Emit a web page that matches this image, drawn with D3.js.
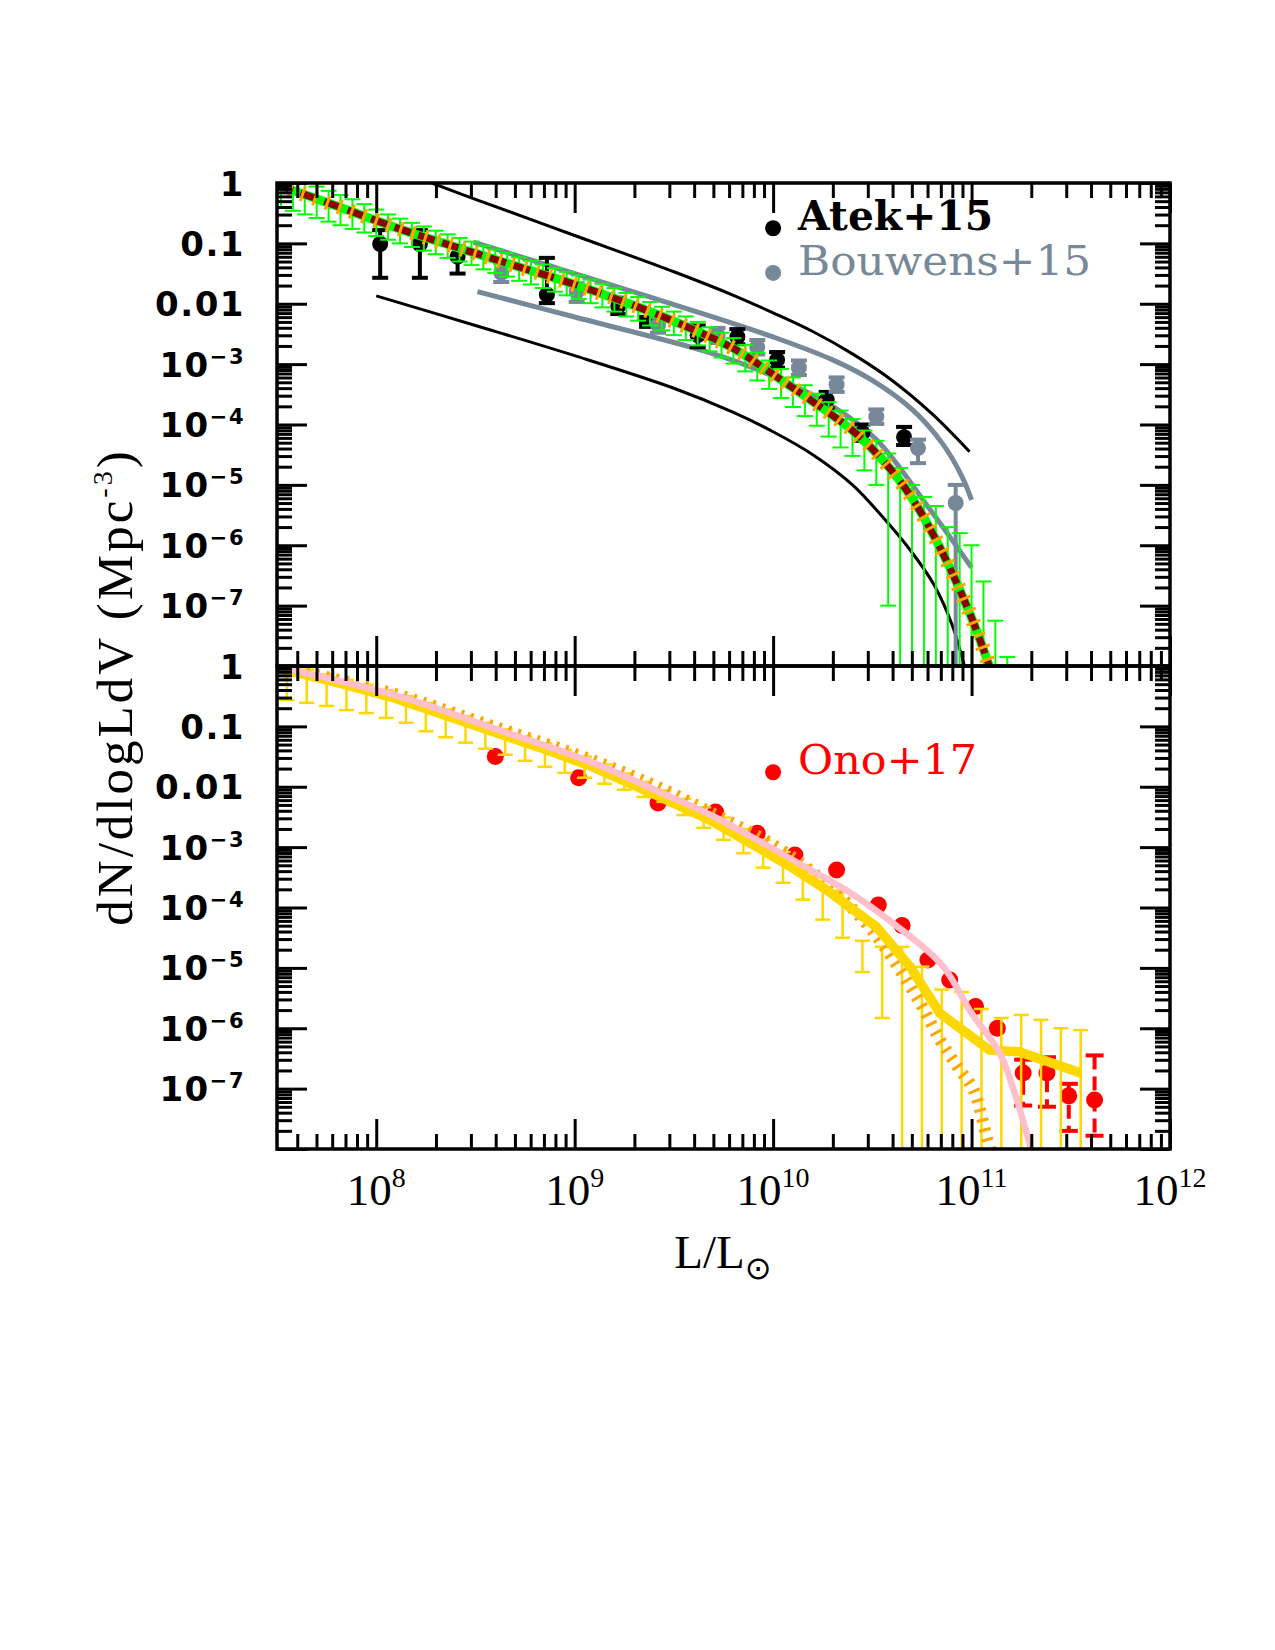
<!DOCTYPE html>
<html>
<head>
<meta charset="utf-8">
<script src="https://cdn.jsdelivr.net/npm/d3@7"></script>
<style>
  body { margin: 0; background: #fff; }
</style>
</head>
<body>
<svg id="fig" width="1275" height="1650"></svg>
<script>
// all values are log10(L/Lsun) and log10(dN/dlogLdV)

// ---- top panel ----
const upBlackL = [8.28, 8.5, 9.0, 9.5, 9.8, 10.0, 10.2, 10.4, 10.6, 10.8, 10.99]
const upBlackN = [0.0, -0.27, -0.87, -1.47, -1.86, -2.15, -2.46, -2.83, -3.27, -3.82, -4.45]
const loBlackL = [8.0, 8.5, 9.0, 9.5, 9.8, 10.0, 10.2, 10.4, 10.57, 10.7, 10.81, 10.9, 10.96, 11.0]
const loBlackN = [-1.87, -2.36, -2.86, -3.40, -3.80, -4.12, -4.50, -5.00, -5.60, -6.12, -6.65, -7.3, -7.95, -8.5]
const upGrayL = [8.49, 9.0, 9.68, 10.0, 10.3, 10.5, 10.7, 10.85, 10.95, 11.0]
const upGrayN = [-0.98, -1.50, -2.2, -2.55, -2.93, -3.27, -3.75, -4.3, -4.85, -5.25]
const loGrayL = [8.51, 9.0, 9.68, 10.0, 10.3, 10.52, 10.78, 11.0]
const loGrayN = [-1.80, -2.22, -2.81, -3.2, -3.7, -4.25, -5.36, -6.37]

const modelL = [7.5, 7.8, 8.1, 8.4, 8.7, 9.0, 9.3, 9.6, 9.8, 10.0, 10.2, 10.4, 10.55, 10.7, 10.85, 11.0, 11.1]
const modelN = [-0.03, -0.38, -0.74, -1.06, -1.37, -1.68, -2.03, -2.43, -2.74, -3.17, -3.62, -4.10, -4.58, -5.22, -6.1, -7.2, -8.1]

const greenL = [7.52, 7.58, 7.64, 7.70, 7.76, 7.82, 7.88, 7.94, 8.00, 8.06, 8.12, 8.18, 8.24, 8.30, 8.36, 8.42,
  8.48, 8.54, 8.60, 8.66, 8.72, 8.78, 8.84, 8.90, 8.96, 9.02, 9.08, 9.14, 9.20, 9.26, 9.32, 9.38, 9.44, 9.50,
  9.56, 9.62, 9.68, 9.74, 9.80, 9.86, 9.92, 9.98, 10.04, 10.10, 10.16, 10.22, 10.28, 10.34, 10.40, 10.46,
  10.52, 10.58, 10.64, 10.70, 10.76, 10.82, 10.88, 10.94, 11.00, 11.06, 11.12, 11.18]
const greenHi = [0.15, 0.08, 0.01, -0.06, -0.13, -0.20, -0.27, -0.35, -0.44, -0.52, -0.59, -0.66, -0.72, -0.79, -0.85, -0.91,
  -0.97, -1.04, -1.10, -1.16, -1.23, -1.29, -1.35, -1.41, -1.47, -1.53, -1.60, -1.67, -1.74, -1.82, -1.89, -1.97, -2.05, -2.13,
  -2.21, -2.30, -2.39, -2.48, -2.57, -2.68, -2.81, -2.94, -3.08, -3.22, -3.35, -3.49, -3.63, -3.77, -3.91, -4.10,
  -4.27, -4.48, -4.72, -5.0, -5.2, -5.35, -5.7, -5.8, -6.0, -6.6, -7.25, -7.85]
const greenLo = [-0.40, -0.46, -0.52, -0.58, -0.64, -0.70, -0.76, -0.82, -0.88, -0.94, -1.00, -1.06, -1.12, -1.18, -1.24, -1.30,
  -1.36, -1.43, -1.49, -1.55, -1.62, -1.68, -1.74, -1.80, -1.86, -1.92, -1.99, -2.06, -2.13, -2.21, -2.28, -2.36, -2.44, -2.52,
  -2.60, -2.69, -2.79, -2.89, -2.99, -3.12, -3.27, -3.41, -3.56, -3.71, -3.86, -4.02, -4.20, -4.38, -4.52, -4.76,
  -5.0, -7.0, -9, -9, -9, -9, -9, -9, -9, -9, -9, -9]

const atekL  = [8.02, 8.22, 8.41, 8.86, 9.22, 9.62, 9.82, 10.02, 10.27, 10.45, 10.66]
const atekN  = [-1.01, -1.01, -1.22, -1.85, -2.04, -2.52, -2.55, -2.93, -3.59, -4.14, -4.21]
const atekHi = [-0.78, -0.78, -1.05, -1.24, -1.90, -2.36, -2.42, -2.80, -3.46, -4.00, -4.04]
const atekLo = [-1.57, -1.57, -1.50, -1.99, -2.17, -2.72, -2.67, -3.06, -3.73, -4.27, -4.34]
const squareL = [9.36]
const squareN = [-2.30]

const bouL  = [8.63, 9.01, 9.42, 9.72, 9.92, 10.13, 10.32, 10.52, 10.73, 10.92]
const bouN  = [-1.49, -1.80, -2.35, -2.52, -2.72, -3.06, -3.34, -3.87, -4.39, -5.30]
const bouHi = [-1.32, -1.66, -2.22, -2.40, -2.60, -2.94, -3.22, -3.75, -4.25, -5.00]
const bouLo = [-1.64, -1.97, -2.48, -2.65, -2.84, -3.18, -3.46, -3.99, -4.64, -9]

// ---- bottom panel ----
const goldL = [7.5, 7.8, 8.09, 8.35, 8.59, 8.85, 9.09, 9.43, 9.68, 9.93, 10.1, 10.27, 10.52, 10.69, 10.84, 11.09, 11.24, 11.55]
const goldN = [-0.03, -0.27, -0.53, -0.82, -1.09, -1.38, -1.67, -2.17, -2.55, -3.02, -3.35, -3.71, -4.32, -4.98, -5.75, -6.36, -6.39, -6.74]
const pinkL = [7.5, 8.09, 8.59, 9.09, 9.43, 9.68, 9.93, 10.2, 10.4, 10.6, 10.85, 11.0, 11.14, 11.21, 11.3]
const pinkN = [-0.01, -0.48, -1.03, -1.60, -2.09, -2.46, -2.90, -3.40, -3.78, -4.25, -4.95, -5.75, -6.4, -7.0, -8.0]
const hatchL = [7.5, 8.09, 8.59, 9.09, 9.43, 9.7, 10.02, 10.25, 10.44, 10.55, 10.74, 10.84, 10.93, 11.01, 11.08, 11.1]
const hatchN = [0.0, -0.46, -1.0, -1.56, -2.02, -2.45, -3.0, -3.55, -4.16, -4.6, -5.58, -6.19, -6.64, -7.02, -7.85, -8.05]

const gbarL = [7.55, 7.65, 7.75, 7.85, 7.95, 8.05, 8.15, 8.25, 8.35, 8.45, 8.55, 8.65, 8.75, 8.85, 8.95, 9.05,
  9.15, 9.25, 9.35, 9.45, 9.55, 9.65, 9.75, 9.85, 9.95, 10.05, 10.15, 10.25, 10.35, 10.45, 10.55, 10.65,
  10.75, 10.85, 10.95, 11.05, 11.15, 11.25, 11.35, 11.45, 11.55]
const gbarHi = [0.03, -0.06, -0.14, -0.23, -0.31, -0.40, -0.50, -0.61, -0.72, -0.83, -0.94, -1.05, -1.17, -1.28, -1.39, -1.50,
  -1.63, -1.78, -1.92, -2.06, -2.20, -2.34, -2.51, -2.70, -2.88, -3.08, -3.30, -3.50, -3.72, -4.55, -4.65, -4.65,
  -4.98, -5.36, -5.40, -5.68, -5.83, -5.78, -5.86, -6.0, -6.03]
const gbarLo = [-0.56, -0.61, -0.66, -0.73, -0.78, -0.86, -0.94, -1.08, -1.18, -1.27, -1.37, -1.47, -1.57, -1.67, -1.77, -1.85,
  -1.95, -2.05, -2.17, -2.25, -2.47, -2.68, -2.88, -3.10, -3.34, -3.59, -3.87, -4.20, -4.50, -5.07, -5.83, -9,
  -9, -9, -9, -9, -9, -9, -9, -9, -9]

const onoL = [8.60, 9.02, 9.42, 9.71, 9.92, 10.11, 10.32, 10.53, 10.65, 10.78, 10.89, 11.02, 11.13, 11.26, 11.38, 11.49, 11.62]
const onoN = [-1.50, -1.85, -2.27, -2.42, -2.77, -3.13, -3.38, -3.96, -4.30, -4.87, -5.20, -5.64, -6.0, -6.74, -6.74, -7.12, -7.19]
const onoErrL  = [11.26, 11.38, 11.49, 11.62]
const onoErrHi = [-6.52, -6.48, -6.92, -6.45]
const onoErrLo = [-7.28, -7.30, -7.70, -7.78]

// legend anchors (data coords)
const legendL = 10
const legendTopN = [-0.75, -1.49]
const legendBotN = [-1.76]

// ---------------------------------------------
const svg = d3.select("#fig")
const x = d3.scaleLog().domain([10 ** 7.5, 1e12]).range([277, 1170])
const yTop = d3.scaleLog().domain([1e-8, 1]).range([666, 183])
const yBot = d3.scaleLog().domain([1e-8, 1]).range([1149, 666])
const P = v => 10 ** v
const zip = (a, b) => a.map((v, i) => [v, b[i]])

const defs = svg.append("defs")
const addClip = (id, y) => defs.append("clipPath").attr("id", id).append("rect")
  .attr("x", x.range()[0]).attr("y", y.range()[1])
  .attr("width", x.range()[1] - x.range()[0]).attr("height", y.range()[0] - y.range()[1])
addClip("cTop", yTop)
addClip("cBot", yBot)

const gTop = svg.append("g").attr("clip-path", "url(#cTop)")
const gBot = svg.append("g").attr("clip-path", "url(#cBot)")

function drawLine(g, y, L, N, color, w, dash, curve) {
  const gen = d3.line().x(d => x(P(d[0]))).y(d => y(P(d[1]))).curve(curve || d3.curveCatmullRom)
  const p = g.append("path").datum(zip(L, N))
    .attr("d", gen).attr("fill", "none")
    .attr("stroke", color).attr("stroke-width", w)
  if (dash) p.attr("stroke-dasharray", dash)
  return p
}

function drawBars(g, y, L, hi, lo, color, w, cap, dash) {
  const lowest = y.domain()[0]
  L.forEach((l, i) => {
    const xx = x(P(l))
    const y1 = y(P(hi[i]))
    const y2 = y(Math.max(P(lo[i]), lowest / 10))
    const s = g.append("line").attr("x1", xx).attr("x2", xx).attr("y1", y1).attr("y2", y2)
      .attr("stroke", color).attr("stroke-width", w)
    if (dash) s.attr("stroke-dasharray", dash)
    g.append("line").attr("x1", xx - cap / 2).attr("x2", xx + cap / 2).attr("y1", y1).attr("y2", y1)
      .attr("stroke", color).attr("stroke-width", w)
    if (P(lo[i]) >= lowest)
      g.append("line").attr("x1", xx - cap / 2).attr("x2", xx + cap / 2).attr("y1", y2).attr("y2", y2)
        .attr("stroke", color).attr("stroke-width", w)
  })
}

function drawDots(g, y, L, N, color, r) {
  g.selectAll(null).data(zip(L, N)).join("circle")
    .attr("cx", d => x(P(d[0]))).attr("cy", d => y(P(d[1]))).attr("r", r).attr("fill", color)
}

// ---- top panel marks ----
const slate = "#778899"
drawLine(gTop, yTop, upBlackL, upBlackN, "#000", 3)
drawLine(gTop, yTop, loBlackL, loBlackN, "#000", 3)
drawLine(gTop, yTop, upGrayL, upGrayN, slate, 5)
drawLine(gTop, yTop, loGrayL, loGrayN, slate, 5)

drawBars(gTop, yTop, atekL, atekHi, atekLo, "#000", 4, 16)
drawDots(gTop, yTop, atekL, atekN, "#000", 8)
gTop.selectAll(null).data(zip(squareL, squareN)).join("rect")
  .attr("x", d => x(P(d[0])) - 7).attr("y", d => yTop(P(d[1])) - 7)
  .attr("width", 14).attr("height", 14).attr("fill", "#000")
drawBars(gTop, yTop, bouL, bouHi, bouLo, slate, 4, 16)
drawDots(gTop, yTop, bouL, bouN, slate, 8)

drawBars(gTop, yTop, greenL, greenHi, greenLo, "#00ff00", 2, 16)
drawLine(gTop, yTop, modelL, modelN, "#00ff00", 9)
drawLine(gTop, yTop, modelL, modelN, "#8b0000", 7, "17,8")
drawLine(gTop, yTop, modelL, modelN, "#ffa500", 15, "3,10")

// ---- bottom panel marks ----
drawDots(gBot, yBot, onoL, onoN, "#ff0000", 8.5)
drawBars(gBot, yBot, onoErrL, onoErrHi, onoErrLo, "#ff0000", 4, 18, "14,7")
drawBars(gBot, yBot, gbarL, gbarHi, gbarLo, "#ffd700", 2.5, 15)
drawLine(gBot, yBot, hatchL, hatchN, "#ffa500", 12, "3,7")
drawLine(gBot, yBot, goldL, goldN, "#ffd700", 9.5, null, d3.curveLinear)
drawLine(gBot, yBot, pinkL, pinkN, "#ffc0cb", 6.5)

// ---- axes ----
const isMajor = v => Math.abs(Math.log10(v) - Math.round(Math.log10(v))) < 1e-9

function tickSet(axisFn, scale, transform) {
  const vals = scale.ticks()
  ;[[vals.filter(isMajor), 30], [vals.filter(v => !isMajor(v)), 15]].forEach(([vs, len]) => {
    svg.append("g").attr("transform", transform)
      .call(axisFn(scale).tickValues(vs).tickSize(len).tickFormat(""))
      .call(a => a.select(".domain").remove())
      .selectAll("line").attr("stroke", "#000").attr("stroke-width", 3)
  })
}

;[yTop, yBot].forEach(y => {
  const [y0, y1] = [y.range()[1], y.range()[0]]
  tickSet(d3.axisBottom, x, `translate(0,${y0})`)
  tickSet(d3.axisTop, x, `translate(0,${y1})`)
  tickSet(d3.axisRight, y, `translate(${x.range()[0]},0)`)
  tickSet(d3.axisLeft, y, `translate(${x.range()[1]},0)`)
  svg.append("rect").attr("x", x.range()[0]).attr("y", y0)
    .attr("width", x.range()[1] - x.range()[0]).attr("height", y1 - y0)
    .attr("fill", "none").attr("stroke", "#000").attr("stroke-width", 3.5)
})

// y tick labels
const yLabelVals = [0, -1, -2, -3, -4, -5, -6, -7]
;[yTop, yBot].forEach(y => {
  yLabelVals.forEach(k => {
    const t = svg.append("text").attr("x", 245).attr("y", y(P(k)) + 12.5)
      .attr("text-anchor", "end").attr("font-family", "DejaVu Sans").attr("font-weight", "bold")
      .attr("font-size", 34).attr("letter-spacing", 1.5)
    if (k === 0) t.text("1")
    else if (k === -1) t.text("0.1")
    else if (k === -2) t.text("0.01")
    else {
      t.append("tspan").text("10")
      t.append("tspan").attr("font-size", 21).attr("dy", -13).text("\u2212" + (-k))
    }
  })
})

// x tick labels
const xLabelVals = [8, 9, 10, 11, 12]
xLabelVals.forEach(k => {
  const t = svg.append("text").attr("x", x(P(k))).attr("y", 1205)
    .attr("text-anchor", "middle").attr("font-family", "Liberation Serif").attr("font-size", 45)
  t.append("tspan").text("10")
  t.append("tspan").attr("font-size", 28).attr("dy", -18).text(k)
})

// axis titles
const xt = svg.append("text").attr("x", 723).attr("y", 1268)
  .attr("text-anchor", "middle").attr("font-family", "Liberation Serif").attr("font-size", 47)
xt.append("tspan").text("L/L")
xt.append("tspan").attr("font-family", "DejaVu Sans").attr("font-size", 32).attr("dy", 11).text("\u2299")

const yt = svg.append("text").attr("transform", "translate(132,687) rotate(-90)")
  .attr("text-anchor", "middle").attr("font-family", "Liberation Serif").attr("font-size", 51)
  .attr("letter-spacing", 3)
yt.append("tspan").text("dN/dlogLdV (Mpc")
yt.append("tspan").attr("font-size", 28).attr("dy", -20).text("-3")
yt.append("tspan").attr("dy", 20).text(")")

// legends
function legend(y, n, color, label, width, bold) {
  svg.append("circle").attr("cx", x(P(legendL))).attr("cy", y(P(n))).attr("r", 8).attr("fill", color)
  svg.append("text").attr("x", x(P(legendL)) + 25).attr("y", y(P(n)) + 2)
    .attr("font-family", "DejaVu Serif").attr("font-size", 41)
    .attr("font-weight", bold ? "bold" : "normal")
    .attr("textLength", width).attr("lengthAdjust", "spacingAndGlyphs")
    .attr("fill", color).text(label)
}
legend(yTop, legendTopN[0], "#000", "Atek+15", 195, true)
legend(yTop, legendTopN[1], slate, "Bouwens+15", 293, false)
legend(yBot, legendBotN[0], "#ff0000", "Ono+17", 179, false)
</script>
</body>
</html>
